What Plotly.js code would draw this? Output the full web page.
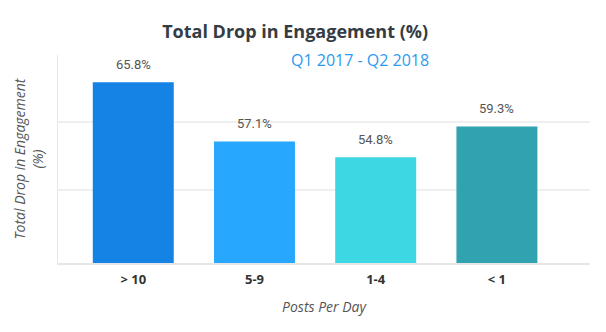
<!DOCTYPE html>
<html>
<head>
<meta charset="utf-8">
<script src="https://cdn.plot.ly/plotly-3.0.1.min.js"></script>
<style>html,body{margin:0;padding:0;background:#fff;}#chart{width:606px;height:332px;}</style>
</head>
<body>
<div id="chart"></div>
<script>
const categories = ['> 10', '5-9', '1-4', '< 1'];
const values = [65.8, 57.1, 54.8, 59.3];
const barColors = ['#1583e6', '#27a7fd', '#3dd6e3', '#31a3b0'];
const valueLabels = values.map(v => v.toFixed(1) + '%');
const chartTitle = 'Total Drop in Engagement (%)';
const subtitle = 'Q1 2017 - Q2 2018';
const xTitle = 'Posts Per Day';
const yTitle = 'Total Drop in Engagement<br>(%)';
const gridVals = [50, 60];

const trace = {
  type: 'bar',
  x: categories,
  y: values,
  marker: { color: barColors },
  hoverinfo: 'none'
};

const annotations = categories.map((c, i) => ({
  x: c, y: values[i], xref: 'x', yref: 'y',
  text: valueLabels[i], showarrow: false,
  yanchor: 'middle', yshift: 18,
  font: { family: 'Roboto', size: 13, color: '#555555' }
}));
annotations.push({
  xref: 'paper', yref: 'paper', x: 0.567, y: 0.976,
  xanchor: 'center', yanchor: 'middle', showarrow: false,
  text: subtitle,
  font: { family: 'Open Sans', size: 16, color: '#2b9af2' }
});

const layout = {
  width: 606, height: 332,
  margin: { l: 58, r: 16, t: 55, b: 69, pad: 0 },
  paper_bgcolor: '#ffffff', plot_bgcolor: '#ffffff',
  showlegend: false,
  bargap: 0.332,
  title: {
    text: chartTitle,
    font: { family: 'Open Sans', size: 18, color: '#353c43', weight: 'bold' },
    xref: 'container', yref: 'container',
    x: 0.487, xanchor: 'center', y: 1 - 31.7 / 332, yanchor: 'middle'
  },
  xaxis: {
    type: 'category',
    range: [-0.621, 3.768],
    showline: true, linecolor: '#e6e6e6', linewidth: 2,
    showgrid: false, zeroline: false, ticks: '',
    ticklabelstandoff: 3,
    tickfont: { family: 'Open Sans', size: 13, color: '#333333', weight: 'bold' },
    title: { text: xTitle, standoff: 16,
      font: { family: 'Open Sans', size: 14, color: '#555555', style: 'italic' } },
    automargin: false, fixedrange: true
  },
  yaxis: {
    range: [39.3, 69.8],
    tickmode: 'array', tickvals: gridVals,
    showticklabels: false, ticks: '',
    showgrid: true, gridcolor: '#efefef', gridwidth: 2,
    showline: true, linecolor: '#e8e8e8', linewidth: 1.5,
    zeroline: false,
    title: { text: yTitle, standoff: 9,
      font: { family: 'Open Sans', size: 14, color: '#555555', style: 'italic' } },
    automargin: false, fixedrange: true
  },
  annotations: annotations
};

Plotly.newPlot('chart', [trace], layout, { staticPlot: true, displayModeBar: false });
</script>
</body>
</html>
